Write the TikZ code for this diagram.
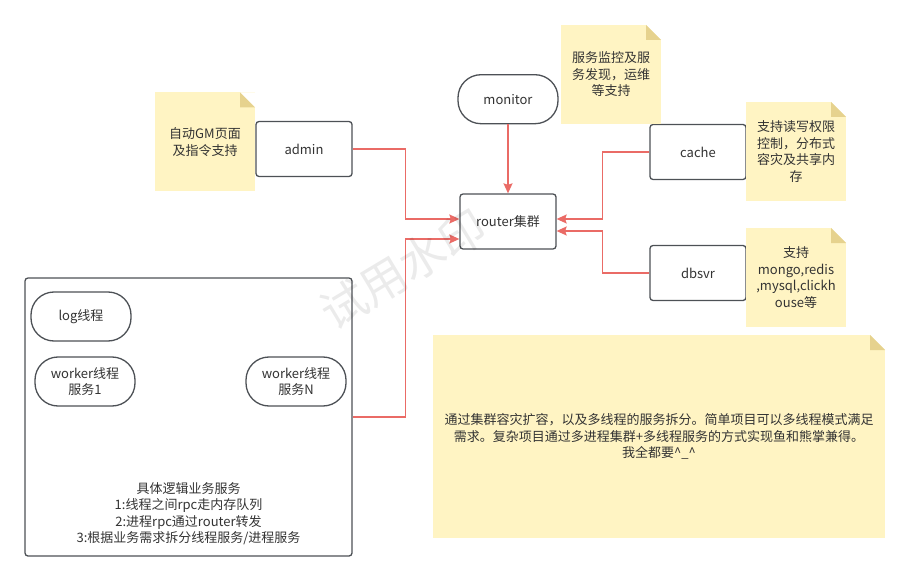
\documentclass[tikz,border=0pt]{standalone}
\usepackage{fontspec}
\setmainfont{Noto Sans CJK SC}
\usepackage{xcolor}
\usepackage{tikz}
\usetikzlibrary{arrows.meta,positioning}
\definecolor{linkred}{HTML}{EA6B66}
\definecolor{boxline}{HTML}{4D5156}
\definecolor{notefill}{HTML}{FFF4C3}
\definecolor{notefold}{HTML}{E6D28E}
\definecolor{inkgray}{HTML}{333333}
\tikzset{
  clusterpicture/.style={x=1pt, y=-1pt, font=\fontsize{13pt}{16.5pt}\selectfont, text=inkgray},
  clusterbox/.style={draw=boxline, line width=1.3pt, rounded corners=3pt, align=center, inner sep=2pt, minimum width=96pt, minimum height=55pt, fill=white},
  clusterpill/.style={clusterbox, rounded corners=23pt, minimum width=100pt, minimum height=49pt},
  clustergroup/.style={clusterbox, minimum width=327pt, minimum height=278pt},
  clusternote/.style={fill=notefill, align=center, inner sep=0pt, minimum width=100pt, minimum height=99pt,
    path picture={
      \fill[white] ([xshift=-15pt]path picture bounding box.north east) -- (path picture bounding box.north east) -- ([yshift=-15pt]path picture bounding box.north east) -- cycle;
      \fill[notefold] ([xshift=-15pt]path picture bounding box.north east) -- ([xshift=-15pt,yshift=-15pt]path picture bounding box.north east) -- ([yshift=-15pt]path picture bounding box.north east) -- cycle;
    }},
  clusterarrow/.style={-{Stealth[length=10pt, width=9pt, inset=1.5pt]}, draw=linkred, line width=1.4pt},
  clustermark/.style={rotate=31, text=black, text opacity=0.08, font=\fontsize{46pt}{46pt}\selectfont}
}
\begin{document}
\begin{tikzpicture}[clusterpicture]
\useasboundingbox (0,0) rectangle (910,588);
% core
\node[clusterbox] (router) at (508,221.5) {router集群};
\node[clusterpill, above=69pt of router] (monitor) {monitor};
\node[clusterbox] (admin) at (304,149) {admin};
\node[clusterbox] (cache) at (698,152) {cache};
\node[clusterbox] (dbsvr) at (698,273) {dbsvr};
% notes
\node[clusternote] (adminnote) at (205,142) {自动GM页面\\及指令支持};
\node[clusternote] (monitornote) at (611,74.5) {服务监控及服\\务发现，运维\\等支持};
\node[clusternote] (cachenote) at (796,151.5) {支持读写权限\\控制，分布式\\容灾及共享内\\存};
\node[clusternote] (dbsvrnote) at (796,277.5) {支持\\mongo,redis\\,mysql,clickh\\ouse等};
\node[clusternote, minimum width=452pt, minimum height=203pt] (summary) at (659,436.5) {通过集群容灾扩容，以及多线程的服务拆分。简单项目可以多线程模式满足\\需求。复杂项目通过多进程集群+多线程服务的方式实现鱼和熊掌兼得。\\我全都要\^{}\_\^{}};
% logic services
\node[clustergroup] (logic) at (188.5,417) {};
\node[clusterpill] (logthread) at (81,316.5) {log线程};
\node[clusterpill] (worker1) at (85,381.5) {worker线程\\服务1};
\node[clusterpill] (workerN) at (296,381.5) {worker线程\\服务N};
\node[align=center, inner sep=0pt] (logictext) at (188.5,513.5) {具体逻辑业务服务\\1:线程之间rpc走内存队列\\2:进程rpc通过router转发\\3:根据业务需求拆分线程服务/进程服务};
% links
\draw[clusterarrow] (monitor) -- (router);
\draw[clusterarrow] (admin.east) -- ++(53,0) |- ([yshift=2.5pt]router.west);
\draw[clusterarrow] (logic.east) -- ++(53,0) |- ([yshift=-17.5pt]router.west);
\draw[clusterarrow] (cache.west) -- ++(-47,0) |- ([yshift=2.5pt]router.east);
\draw[clusterarrow] (dbsvr.west) -- ++(-47,0) |- ([yshift=-9.5pt]router.east);
% watermark
\node[clustermark] (mark) at (403,269) {试用水印};
\end{tikzpicture}
\end{document}
